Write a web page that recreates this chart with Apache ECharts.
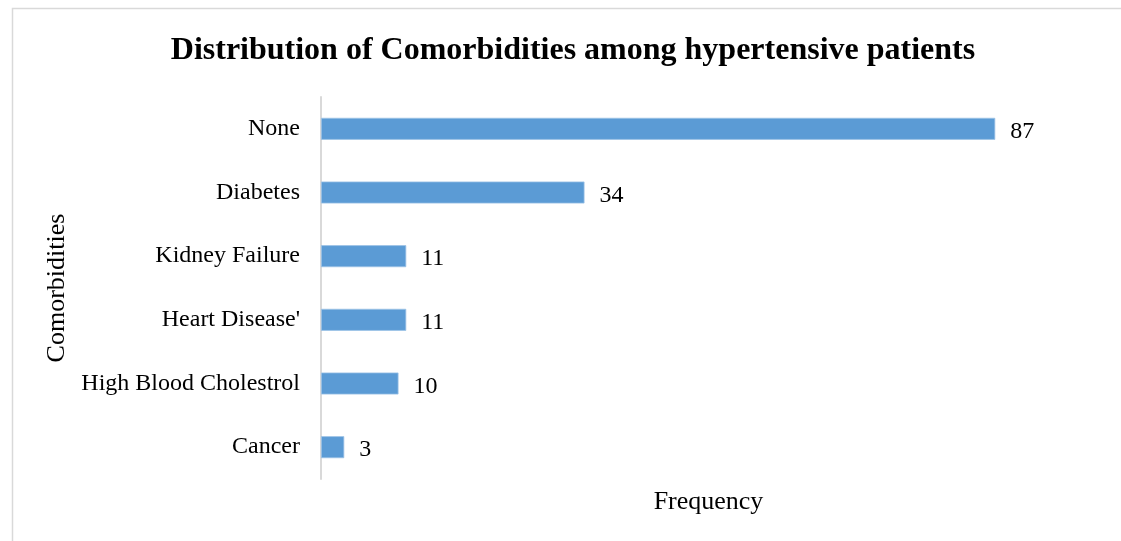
<!DOCTYPE html>
<html>
<head>
<meta charset="utf-8">
<script src="https://cdn.jsdelivr.net/npm/echarts@6/dist/echarts.min.js"></script>
<style>html,body{margin:0;padding:0;background:#fff}#c{width:1121px;height:541px}</style>
</head>
<body>
<div id="c"></div>
<script>
const categories = ["Cancer", "High Blood Cholestrol", "Heart Disease'", "Kidney Failure", "Diabetes", "None"];
const frequency = [3, 10, 11, 11, 34, 87];
const titleText = "Distribution of Comorbidities among hypertensive patients";
const xAxisName = "Frequency";
const yAxisName = "Comorbidities";

const font = '"Liberation Serif", "Times New Roman", serif';
const chart = echarts.init(document.getElementById('c'), null, {renderer: 'canvas'});
chart.setOption({
  animation: false,
  backgroundColor: '#fff',
  graphic: [{
    type: 'rect', left: 10, top: 6,
    shape: {width: 1200, height: 600},
    style: {fill: 'none', stroke: '#d9d9d9', lineWidth: 1.5}
  }],
  title: {
    text: titleText, left: 568, top: 30, textAlign: 'center',
    textStyle: {fontFamily: font, fontWeight: 'bold', fontSize: 32, color: '#000'}
  },
  grid: {left: 321, top: 97, width: 775, height: 382, containLabel: false},
  xAxis: {
    type: 'value', min: 0, max: 100,
    name: xAxisName, nameLocation: 'middle', nameGap: 10,
    nameTextStyle: {fontFamily: font, fontSize: 26, color: '#000'},
    axisLine: {show: false}, axisTick: {show: false}, axisLabel: {show: false},
    splitLine: {show: false}
  },
  yAxis: {
    type: 'category', data: categories,
    name: yAxisName, nameLocation: 'middle', nameGap: 246, nameRotate: 90,
    nameTextStyle: {fontFamily: font, fontSize: 26, color: '#000'},
    axisLine: {show: true, lineStyle: {color: '#d9d9d9', width: 2}},
    axisTick: {show: false},
    axisLabel: {fontFamily: font, fontSize: 24, color: '#000', margin: 21, lineHeight: 30, padding: [6, 0, 0, 0]}
  },
  series: [{
    type: 'bar', data: frequency, barWidth: 22,
    itemStyle: {color: '#5B9BD5', borderColor: '#9DC3E6', borderWidth: 0.8},
    label: {show: true, position: 'right', distance: 15, offset: [0, 3],
      fontFamily: font, fontSize: 24, color: '#000'}
  }]
});
</script>
</body>
</html>
